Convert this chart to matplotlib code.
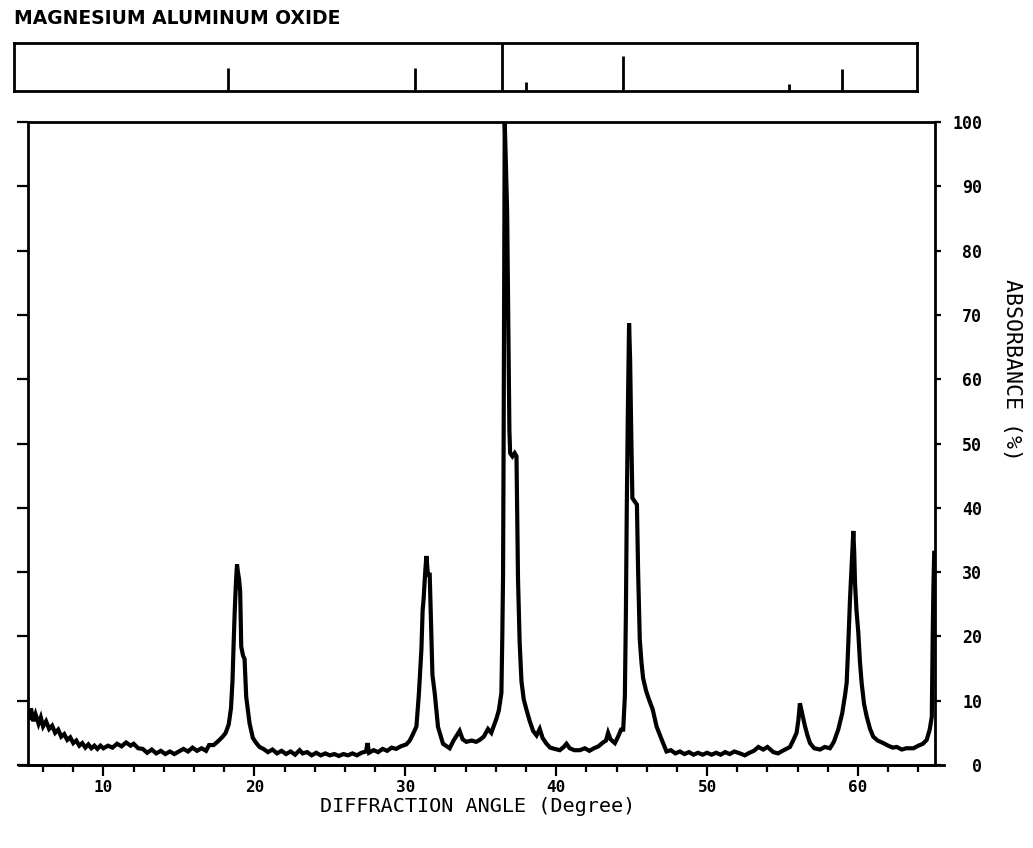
import numpy as np
import matplotlib.pyplot as plt

# diffraction trace (angle in degree, absorbance in %)
angle = [5.0, 5.1, 5.2, 5.35, 5.5, 5.7, 5.85, 6.0, 6.2, 6.4, 6.6, 6.8, 7.0, 7.2, 7.4,
         7.6, 7.8, 8.0, 8.2, 8.4, 8.6, 8.8, 9.0, 9.2, 9.4, 9.6, 9.8, 10.0, 10.3, 10.6,
         10.9, 11.2, 11.5, 11.8, 12.0, 12.3, 12.6, 12.9, 13.2, 13.5, 13.8, 14.1, 14.4,
         14.7, 15.0, 15.3, 15.6, 15.9, 16.2, 16.5, 16.8, 17.0, 17.3, 17.6, 17.9, 18.1,
         18.3, 18.45, 18.55, 18.62, 18.7, 18.78, 18.85, 18.91, 18.98, 19.06, 19.13,
         19.25, 19.35, 19.46, 19.57, 19.68, 19.9, 20.1, 20.34, 20.6, 20.9, 21.2, 21.5,
         21.8, 22.1, 22.4, 22.7, 23.0, 23.2, 23.5, 23.8, 24.1, 24.4, 24.7, 25.0, 25.3,
         25.6, 25.9, 26.2, 26.5, 26.8, 27.1, 27.4, 27.5, 27.6, 27.9, 28.2, 28.5, 28.8,
         29.1, 29.4, 29.7, 30.07, 30.3, 30.55, 30.74, 30.9, 31.07, 31.15, 31.22, 31.32,
         31.4, 31.5, 31.62, 31.73, 31.8, 31.95, 32.17, 32.5, 32.94, 33.2, 33.6, 33.8,
         34.05, 34.4, 34.7, 34.93, 35.2, 35.48, 35.7, 35.9, 36.04, 36.2, 36.37, 36.43,
         36.48, 36.52, 36.56, 36.59, 36.65, 36.75, 36.82, 36.9, 36.95, 37.1, 37.25,
         37.37, 37.47, 37.58, 37.7, 37.85, 38.03, 38.25, 38.47, 38.7, 38.91, 39.1,
         39.36, 39.6, 39.9, 40.24, 40.5, 40.68, 40.9, 41.2, 41.57, 41.9, 42.2, 42.5,
         42.8, 43.1, 43.3, 43.44, 43.6, 43.89, 44.1, 44.3, 44.44, 44.55, 44.62, 44.68,
         44.75, 44.83, 44.9, 44.97, 45.05, 45.2, 45.35, 45.43, 45.54, 45.65, 45.76,
         45.95, 46.1, 46.4, 46.65, 47.0, 47.31, 47.6, 47.9, 48.2, 48.5, 48.8, 49.1,
         49.4, 49.7, 50.0, 50.3, 50.6, 50.9, 51.2, 51.5, 51.8, 52.18, 52.5, 52.8, 53.1,
         53.4, 53.72, 54.0, 54.39, 54.7, 55.0, 55.25, 55.49, 55.7, 55.93, 56.05, 56.15,
         56.3, 56.49, 56.65, 56.82, 57.1, 57.48, 57.8, 58.14, 58.4, 58.69, 58.95, 59.15,
         59.25, 59.36, 59.47, 59.58, 59.69, 59.75, 59.8, 59.9, 60.02, 60.13, 60.24,
         60.4, 60.58, 60.8, 61.01, 61.3, 61.68, 62.0, 62.3, 62.57, 62.9, 63.2, 63.67,
         64.0, 64.3, 64.55, 64.75, 64.89, 64.95, 65.0, 65.05]
absorb = [8.6, 7.0, 8.8, 6.8, 7.9, 6.4, 7.4, 6.0, 6.8, 5.6, 6.1, 5.0, 5.5, 4.4, 4.8,
          3.9, 4.3, 3.4, 3.8, 3.0, 3.4, 2.7, 3.2, 2.6, 3.0, 2.5, 3.0, 2.6, 3.0, 2.7,
          3.3, 2.9, 3.5, 3.0, 3.3, 2.6, 2.5, 1.9, 2.4, 1.8, 2.2, 1.7, 2.1, 1.7, 2.1,
          2.5, 2.1, 2.7, 2.2, 2.6, 2.2, 3.1, 3.1, 3.7, 4.4, 5.0, 6.3, 8.8, 13.0, 18.4,
          24.0, 28.4, 31.2, 30.0, 29.0, 27.0, 18.4, 17.0, 16.5, 10.6, 8.5, 6.5, 4.2,
          3.5, 2.8, 2.5, 2.0, 2.4, 1.8, 2.2, 1.7, 2.1, 1.6, 2.3, 1.8, 2.0, 1.5, 1.9,
          1.5, 1.8, 1.5, 1.7, 1.4, 1.7, 1.5, 1.8, 1.5, 1.9, 2.1, 3.4, 1.9, 2.3, 2.0,
          2.5, 2.2, 2.7, 2.5, 2.9, 3.2, 3.8, 5.0, 6.0, 11.0, 18.0, 24.0, 26.0, 30.0,
          32.5, 29.6, 29.6, 20.4, 14.0, 11.2, 5.9, 3.3, 2.6, 3.8, 5.3, 4.0, 3.6, 3.8,
          3.6, 3.9, 4.4, 5.6, 5.0, 6.3, 7.2, 8.5, 11.2, 20.0, 29.6, 52.0, 80.0, 100.0,
          95.0, 86.0, 70.0, 52.0, 48.5, 48.0, 48.5, 48.0, 29.0, 19.0, 13.0, 10.2,
          8.6, 6.8, 5.3, 4.6, 5.6, 4.2, 3.3, 2.7, 2.5, 2.3, 2.8, 3.3, 2.6, 2.3, 2.3,
          2.6, 2.2, 2.6, 2.9, 3.5, 3.8, 5.0, 4.0, 3.4, 4.4, 5.5, 5.5, 10.6, 23.7, 40.3,
          55.0, 68.7, 63.0, 52.0, 41.5, 41.0, 40.5, 30.0, 19.5, 16.0, 13.5, 11.6, 10.5,
          8.6, 6.0, 3.9, 2.1, 2.3, 1.8, 2.1, 1.7, 2.0, 1.6, 1.9, 1.6, 1.9, 1.6, 1.9,
          1.6, 2.0, 1.7, 2.1, 1.8, 1.5, 1.9, 2.2, 2.8, 2.4, 2.8, 2.0, 1.8, 2.2, 2.5,
          2.8, 3.8, 5.0, 7.0, 9.6, 8.0, 6.0, 4.6, 3.4, 2.6, 2.4, 2.8, 2.6, 3.6, 5.5,
          8.0, 11.0, 12.8, 19.0, 25.8, 31.0, 36.4, 33.0, 28.4, 24.0, 20.6, 16.0, 12.8,
          9.5, 7.5, 5.6, 4.4, 3.8, 3.4, 3.0, 2.7, 2.8, 2.4, 2.6, 2.6, 3.0, 3.3, 3.9,
          5.5, 7.5, 20.0, 28.0, 33.0]

# reference pattern (stick positions in degree, relative height %)
ref_angle = [18.22, 30.62, 36.39, 37.98, 44.42, 55.42, 58.94]
ref_height = [48, 48, 100, 18, 72, 15, 46]

fig = plt.figure(figsize=(10.33, 8.48), dpi=100)
lab_font = dict(family='DejaVu Sans Mono', weight='bold')

# main plot
ax = fig.add_axes([0.0271, 0.0979, 0.8780, 0.7582])
ax.plot(angle, absorb, color='black', lw=3.0, solid_joinstyle='miter')
ax.set_xlim(5, 65.1)
ax.set_ylim(0, 100)
for s in ax.spines.values():
    s.set_linewidth(2.0)
ax.set_xticks([10, 20, 30, 40, 50, 60])
ax.set_xticks(np.arange(6, 65, 2), minor=True)
ax.set_xticklabels(['10', '20', '30', '40', '50', '60'], fontsize=11.5, **lab_font)
ax.tick_params(axis='x', which='major', direction='out', length=8, width=1.6, pad=3)
ax.tick_params(axis='x', which='minor', direction='out', length=5, width=1.6)
ax.set_yticks(np.arange(0, 101, 10))
ax.tick_params(axis='y', which='major', direction='out', length=8, width=1.6,
               left=True, labelleft=False)
ax.axhline(0, xmin=-0.01, xmax=1.01, color='black', lw=2.0, clip_on=False)

# right scale
ax2 = ax.twinx()
ax2.set_ylim(0, 100)
ax2.set_yticks(np.arange(0, 101, 10))
ax2.set_yticklabels([str(v) for v in range(0, 101, 10)], fontsize=12,
                    ha='right', **lab_font)
ax2.tick_params(axis='y', direction='out', length=4, width=1.6, pad=30)
for s in ax2.spines.values():
    s.set_visible(False)

# reference stick box on top
axt = fig.add_axes([0.01355, 0.8927, 0.8742, 0.0566])
axt.vlines(ref_angle, 0, ref_height, color='black', lw=2.0)
axt.set_xlim(4.03, 63.91)
axt.set_ylim(0, 100)
axt.set_xticks([])
axt.set_yticks([])
for s in axt.spines.values():
    s.set_linewidth(2.0)

fig.text(14 / 1033, 1 - 19 / 848, 'MAGNESIUM ALUMINUM OXIDE', fontsize=13.5,
         weight='bold', family='DejaVu Sans', va='center', ha='left')
fig.text(478 / 1033, 1 - 806 / 848, 'DIFFRACTION ANGLE (Degree)', fontsize=14.5,
         family='DejaVu Sans Mono', va='center', ha='center')
fig.text(1012 / 1033, 1 - 370 / 848, 'ABSORBANCE (%)', fontsize=15.5,
         family='DejaVu Sans Mono', rotation=270, va='center', ha='center')

fig.savefig('out.png', dpi=100)
